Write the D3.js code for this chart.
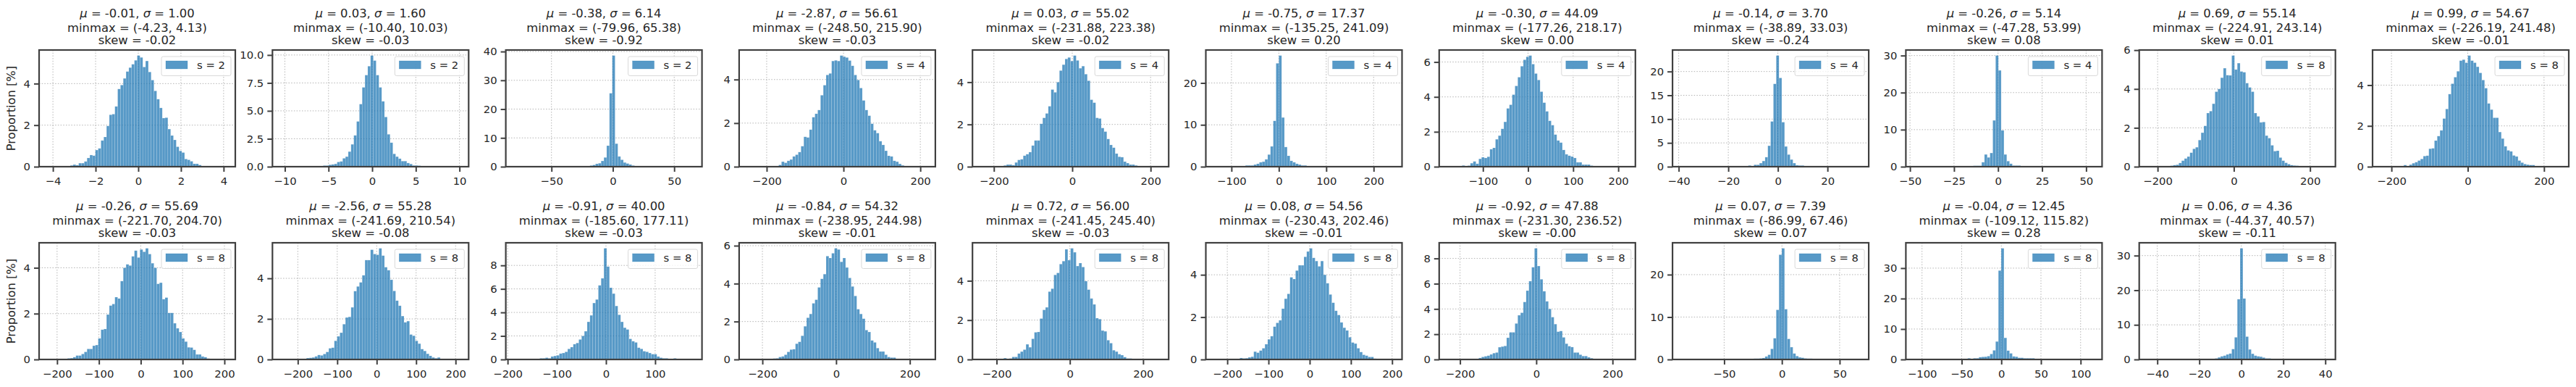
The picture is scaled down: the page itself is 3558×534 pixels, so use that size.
<!DOCTYPE html>
<html>
<head>
<meta charset="utf-8">
<script src="https://cdn.jsdelivr.net/npm/d3@7"></script>
<style>
	body { margin: 0; background: #fff; }
	text { font-family: "DejaVu Sans", sans-serif; fill: #262626; }
	.domain { display: none; }
	.tick line { stroke: #404040; stroke-width: 2; }
	.grid-line { stroke: #b4b4b4; stroke-width: 1; stroke-dasharray: 1.5 2.2; }
	.spine { fill: none; stroke: #404040; stroke-width: 2.2; }
	.bar { fill: #1f77b4; fill-opacity: .75; stroke: #fff; stroke-opacity: .25; stroke-width: .6; }
	.legend-box { fill: #fff; fill-opacity: .8; stroke: #d9d9d9; stroke-width: 1; }
	.legend-patch { fill: #1f77b4; fill-opacity: .75; stroke: #1f77b4; stroke-opacity: .4; stroke-width: .6; }
</style>
</head>
<body>
<svg id="chart" width="3558" height="534"></svg>
<script>
// Summary stats printed above each panel
var means = ["-0.01", "0.03", "-0.38", "-2.87", "0.03", "-0.75", "-0.30", "-0.14", "-0.26", "0.69", "0.99",
	"-0.26", "-2.56", "-0.91", "-0.84", "0.72", "0.08", "-0.92", "0.07", "-0.04", "0.06"];
var stds = ["1.00", "1.60", "6.14", "56.61", "55.02", "17.37", "44.09", "3.70", "5.14", "55.14", "54.67",
	"55.69", "55.28", "40.00", "54.32", "56.00", "54.56", "47.88", "7.39", "12.45", "4.36"];
var mins = ["-4.23", "-10.40", "-79.96", "-248.50", "-231.88", "-135.25", "-177.26", "-38.89", "-47.28", "-224.91", "-226.19",
	"-221.70", "-241.69", "-185.60", "-238.95", "-241.45", "-230.43", "-231.30", "-86.99", "-109.12", "-44.37"];
var maxs = ["4.13", "10.03", "65.38", "215.90", "223.38", "241.09", "218.17", "33.03", "53.99", "243.14", "241.48",
	"204.70", "210.54", "177.11", "244.98", "245.40", "202.46", "236.52", "67.46", "115.82", "40.57"];
var skews = ["-0.02", "-0.03", "-0.92", "-0.03", "-0.02", "0.20", "0.00", "-0.24", "0.08", "0.01", "-0.01",
	"-0.03", "-0.08", "-0.03", "-0.01", "-0.03", "-0.01", "-0.00", "0.07", "0.28", "-0.11"];
var scales = [2, 2, 2, 4, 4, 4, 4, 4, 4, 8, 8, 8, 8, 8, 8, 8, 8, 8, 8, 8, 8];

var xTicks = [
	[-4, -2, 0, 2, 4], [-10, -5, 0, 5, 10], [-50, 0, 50], [-200, 0, 200], [-200, 0, 200],
	[-100, 0, 100, 200], [-100, 0, 100, 200], [-40, -20, 0, 20], [-50, -25, 0, 25, 50], [-200, 0, 200], [-200, 0, 200],
	[-200, -100, 0, 100, 200], [-200, -100, 0, 100, 200], [-200, -100, 0, 100], [-200, 0, 200], [-200, 0, 200],
	[-200, -100, 0, 100, 200], [-200, 0, 200], [-50, 0, 50], [-100, -50, 0, 50, 100], [-40, -20, 0, 20, 40]
];
var yTicks = [
	[0, 2, 4], [0, 2.5, 5, 7.5, 10], [0, 10, 20, 30, 40], [0, 2, 4], [0, 2, 4], [0, 10, 20], [0, 2, 4, 6],
	[0, 5, 10, 15, 20], [0, 10, 20, 30], [0, 2, 4, 6], [0, 2, 4],
	[0, 2, 4], [0, 2, 4], [0, 2, 4, 6, 8], [0, 2, 4, 6], [0, 2, 4], [0, 2, 4], [0, 2, 4, 6, 8],
	[0, 10, 20], [0, 10, 20, 30], [0, 10, 20, 30]
];

// Index of the first non-empty bin in each panel (64 bins from min to max)
var firstBins = [8, 15, 27, 11, 8, 11, 5, 24, 21, 8, 8, 7, 8, 9, 9, 8, 8, 8, 26, 19, 24];

// Proportions in %, starting at firstBins[i]
var heights = [
	[.06, .1, .07, .17, .17, .25, .42, .56, .53, .8, .88, 1.26, 1.43, 1.96, 2.5, 2.53, 2.9, 3.74, 3.93, 4.25, 4.58, 4.77, 4.93, 5.12, 5.35, 5.26, 4.8, 5.09, 4.56, 4.17, 3.65, 3.25, 2.83, 2.34, 2.36, 1.81, 1.5, 1.29, .96, .76, .68, .37, .33, .26, .14, .14, .08],
	[.1, .1, .17, .2, .25, .42, .47, .75, .9, 1.35, 2, 2.8, 4.05, 5.6, 7.1, 8.2, 9, 9.95, 9.5, 8.2, 7.1, 5.85, 4.45, 2.9, 2.15, 1.15, .9, .72, .5, .5, .33, .24, .11, .11, .09],
	[.4, .6, 1, 1.2, 2, 3.2, 7.3, 25.5, 38.6, 8, 3.55, 2.4, 1.45, 1.1, .75, .4, .2],
	[.08, .23, .18, .27, .33, .47, .55, .67, .94, 1.37, 1.34, 1.7, 2.27, 2.43, 2.6, 3.28, 3.74, 4.21, 4.28, 4.85, 4.88, 4.85, 5.1, 5.05, 5.01, 4.87, 4.63, 4.21, 3.98, 3.61, 3.04, 2.6, 2.34, 1.97, 1.67, 1.54, 1.17, 1, .73, .5, .47, .27, .23, .13, .06],
	[.06, .1, .1, .07, .2, .32, .35, .52, .59, .69, 1, 1.24, 1.24, 2.03, 2.31, 2.52, 2.86, 3.65, 3.52, 4, 4.55, 4.83, 5.1, 5.17, 5, 5.26, 5.03, 4.66, 4.76, 4.38, 4.07, 3.17, 3.03, 2.31, 2.28, 1.83, 1.66, 1.31, 1.03, .9, .62, .47, .45, .24, .17, .1, .1, .06],
	[.3, .3, .3, .5, .7, 1.05, 1.2, 1.75, 2.9, 4.85, 10.95, 24.7, 26.55, 11.75, 4.7, 2.6, 1.4, 1.05, .7, .5, .3, .3],
	[.07, .01, .06, .2, .3, .17, .45, .54, .5, .57, 1, 1.08, 1.57, 1.78, 2.17, 2.57, 3.34, 3.55, 4.13, 4.63, 5.13, 5.76, 6.13, 6.3, 6.37, 5.88, 5.34, 4.97, 4.3, 3.67, 3.17, 2.63, 2.38, 1.84, 1.5, 1.38, .96, .71, .63, .58, .5, .25, .25, .12, .12, .12, .06],
	[.25, .05, .4, .4, .75, 1.2, 2, 4.4, 9.5, 17.4, 23.35, 18.65, 9.35, 4.25, 2.55, 1.5, .75, .3, .25, .25],
	[.25, .25, .25, 1.2, 3.3, 2.5, 3.7, 12.5, 30, 26, 9.8, 3.3, 1.5, .8, .3, .3, .3],
	[.05, .08, .1, .19, .31, .42, .52, .72, .92, 1, 1.37, 1.75, 2.1, 2.76, 2.86, 3.24, 3.86, 4, 4.58, 5.07, 4.71, 4.7, 5.72, 5, 5.33, 4.9, 4.86, 4.3, 4.08, 3.86, 2.76, 2.59, 2.28, 2.3, 1.6, 1.47, 1.1, .8, .82, .47, .31, .2, .13, .08, .06, .05],
	[.08, .03, .1, .17, .22, .3, .38, .52, .54, .88, .9, 1.28, 1.5, 1.78, 2.36, 2.83, 3.56, 4.07, 4.39, 4.68, 5.2, 5.25, 5.1, 5.45, 5.2, 5.1, 4.9, 4.6, 4.25, 3.85, 3.1, 2.8, 2.4, 2.4, 1.7, 1.38, 1, .8, .75, .55, .5, .3, .2, .13, .1, .08, .08],
	[.05, .06, .1, .17, .17, .24, .33, .46, .46, .6, .63, .92, 1.3, 1.33, 1.96, 2.35, 2.42, 2.72, 2.66, 3.42, 4, 4.15, 4.1, 4.5, 4.75, 4.45, 4.8, 4.7, 4.85, 4.6, 4.2, 4, 3.3, 3.35, 2.63, 2.7, 2.03, 2.03, 1.58, 1.36, 1.2, .92, .78, .53, .52, .42, .22, .22, .13, .1, .04],
	[.03, .07, .08, .1, .15, .22, .2, .27, .37, .55, .58, .92, 1.14, 1.32, 1.74, 2.07, 2.1, 2.57, 3.37, 3.6, 3.8, 4.15, 4.9, 4.9, 5.41, 5.2, 5.16, 5.48, 5.12, 4.55, 4.4, 3.93, 3.38, 2.9, 2.65, 2.14, 1.83, 1.89, 1.23, 1.17, .92, .78, .51, .42, .28, .18, .1, .06, .1],
	[.1, .1, .15, .1, .25, .3, .35, .5, .55, .65, .9, 1.05, 1.3, 1.4, 1.7, 2, 2.4, 3.2, 3.75, 4.8, 5.1, 6.3, 6.9, 9.45, 7.9, 6.1, 5.6, 4.55, 3.8, 3.2, 2.7, 2.55, 1.75, 1.55, 1.45, 1, .9, .7, .65, .55, .45, .45, .25, .15, .1, .1, .03, .02, .1],
	[.05, .06, .13, .16, .25, .4, .52, .54, .83, .93, 1.25, 1.75, 2.2, 2.4, 2.96, 3.15, 3.8, 4.25, 4.5, 5.45, 5.35, 5.6, 5.86, 5.8, 5.15, 5.35, 4.85, 4.3, 3.85, 3.35, 2.65, 2.4, 2.15, 1.55, 1.45, 1, .9, .6, .42, .42, .25, .13, .1, .1, .03],
	[.07, .01, .05, .13, .13, .3, .4, .5, .77, .62, 1.05, 1.38, 1.4, 2.08, 2.52, 2.65, 3.45, 3.6, 4.3, 4.4, 4.85, 5, 5.6, 5.05, 5.65, 5.45, 4.75, 4.9, 4.7, 3.98, 3.55, 3.1, 2.8, 2.1, 2.05, 1.47, 1.43, .98, .83, .47, .4, .27, .22, .12, .05, .05],
	[.03, .07, .05, .06, .1, .13, .37, .32, .42, .53, .72, .95, 1.1, 1.55, 1.73, 1.85, 2.4, 2.87, 3.1, 3.88, 3.8, 4.2, 4.45, 4.45, 4.85, 5.1, 5.25, 4.8, 4.65, 4.4, 4.65, 4, 3.6, 3.07, 2.68, 2.3, 2.1, 1.75, 1.5, 1.37, 1.05, .8, .75, .53, .35, .22, .18, .12, .12, .04],
	[.02, .02, .02, .12, .2, .25, .3, .4, .5, .55, .97, 1.02, 1.07, 1.72, 2.15, 2.15, 2.85, 3.5, 3.7, 4.55, 5.45, 6.2, 7.3, 8.8, 7.4, 6.35, 5.4, 4.6, 4, 3.35, 2.8, 2.2, 2.25, 1.75, 1.25, 1.05, .98, .55, .55, .38, .27, .27, .17, .1, .02],
	[.2, .2, .25, .35, .7, 1.1, 2.5, 5, 11.7, 24.7, 26.2, 11.85, 4.85, 2.9, 1.4, .8, .5, .4, .25, .2, .2],
	[.4, 0, .4, .4, .75, .85, .9, 1.1, 1.8, 3, 5.9, 29.2, 36.5, 7.1, 2.9, 2, 1, .9, .55, .55, .4, .4, .4, .4],
	[.3, .6, .9, 1.1, 1.45, 1.7, 3, 6.4, 17.4, 32.1, 17.6, 6.6, 2.9, 1.65, 1.1, .9, .8, .55, .3, .3, .05]
];

var svg = d3.select("#chart"),
	perRow = 11,
	axWidth = 271,
	axHeight = 161,
	colStep = 322.3,
	axLeft = 54,
	rowTops = [69, 335],
	binCount = 64;

heights.forEach(function(vals, i) {
	var col = i % perRow,
		row = Math.floor(i / perRow),
		lo = +mins[i],
		hi = +maxs[i],
		pad = (hi - lo) * .05,
		binWidth = (hi - lo) / binCount,
		peak = d3.max(vals);

	var x = d3.scaleLinear().domain([lo - pad, hi + pad]).range([0, axWidth]),
		y = d3.scaleLinear().domain([0, peak * 1.05]).range([axHeight, 0]);

	var bins = vals.map(function(v, j) { return {k: firstBins[i] + j, v: v}; });

	var g = svg.append("g")
		.attr("transform", "translate(" + (axLeft + col * colStep) + "," + rowTops[row] + ")");

	// Grid sits behind the bars
	g.selectAll(".gx").data(xTicks[i]).enter().append("line")
		.attr("class", "grid-line")
		.attr("x1", x).attr("x2", x)
		.attr("y1", 0).attr("y2", axHeight);
	g.selectAll(".gy").data(yTicks[i]).enter().append("line")
		.attr("class", "grid-line")
		.attr("x1", 0).attr("x2", axWidth)
		.attr("y1", y).attr("y2", y);

	g.selectAll(".bar").data(bins).enter().append("rect")
		.attr("class", "bar")
		.attr("x", function(d) { return x(lo + d.k * binWidth); })
		.attr("width", function(d) { return x(lo + (d.k + 1) * binWidth) - x(lo + d.k * binWidth); })
		.attr("y", function(d) { return y(d.v); })
		.attr("height", function(d) { return axHeight - y(d.v); });

	// Axes
	g.append("g")
		.attr("transform", "translate(0," + axHeight + ")")
		.call(d3.axisBottom(x).tickValues(xTicks[i]).tickSize(7).tickPadding(7).tickFormat(d3.format("d")))
		.attr("font-family", null).attr("font-size", null)
		.selectAll("text").style("font-size", "14.8px");
	var yFmt = yTicks[i].indexOf(2.5) >= 0 ? d3.format(".1f") : d3.format("d");
	g.append("g")
		.call(d3.axisLeft(y).tickValues(yTicks[i]).tickSize(7).tickPadding(5).tickFormat(yFmt))
		.attr("font-family", null).attr("font-size", null)
		.selectAll("text").style("font-size", "14.8px");

	g.append("rect")
		.attr("class", "spine")
		.attr("width", axWidth)
		.attr("height", axHeight);

	// Legend
	var legend = g.append("g").attr("transform", "translate(" + (axWidth - 102) + ",9)");
	legend.append("rect").attr("class", "legend-box")
		.attr("width", 96).attr("height", 26.5).attr("rx", 2.5);
	legend.append("rect").attr("class", "legend-patch")
		.attr("x", 6).attr("y", 6).attr("width", 30).attr("height", 11);
	legend.append("text")
		.attr("x", 49).attr("y", 17)
		.style("font-size", "14.8px")
		.text("s = " + scales[i]);

	// Three-line title
	var cx = axWidth / 2,
		title = g.append("g").attr("text-anchor", "middle").style("font-size", "16.4px");
	var line1 = title.append("text").attr("x", cx).attr("y", -45);
	line1.append("tspan").style("font-style", "italic").text("\u03bc");
	line1.append("tspan").text(" = " + means[i] + ", ");
	line1.append("tspan").style("font-style", "italic").text("\u03c3");
	line1.append("tspan").text(" = " + stds[i]);
	title.append("text").attr("x", cx).attr("y", -25)
		.text("minmax = (" + mins[i] + ", " + maxs[i] + ")");
	title.append("text").attr("x", cx).attr("y", -8)
		.text("skew = " + skews[i]);

	if (col === 0) {
		g.append("text")
			.attr("transform", "translate(-33," + (axHeight / 2) + ") rotate(-90)")
			.attr("text-anchor", "middle")
			.style("font-size", "16.3px")
			.text("Proportion [%]");
	}
});
</script>
</body>
</html>
